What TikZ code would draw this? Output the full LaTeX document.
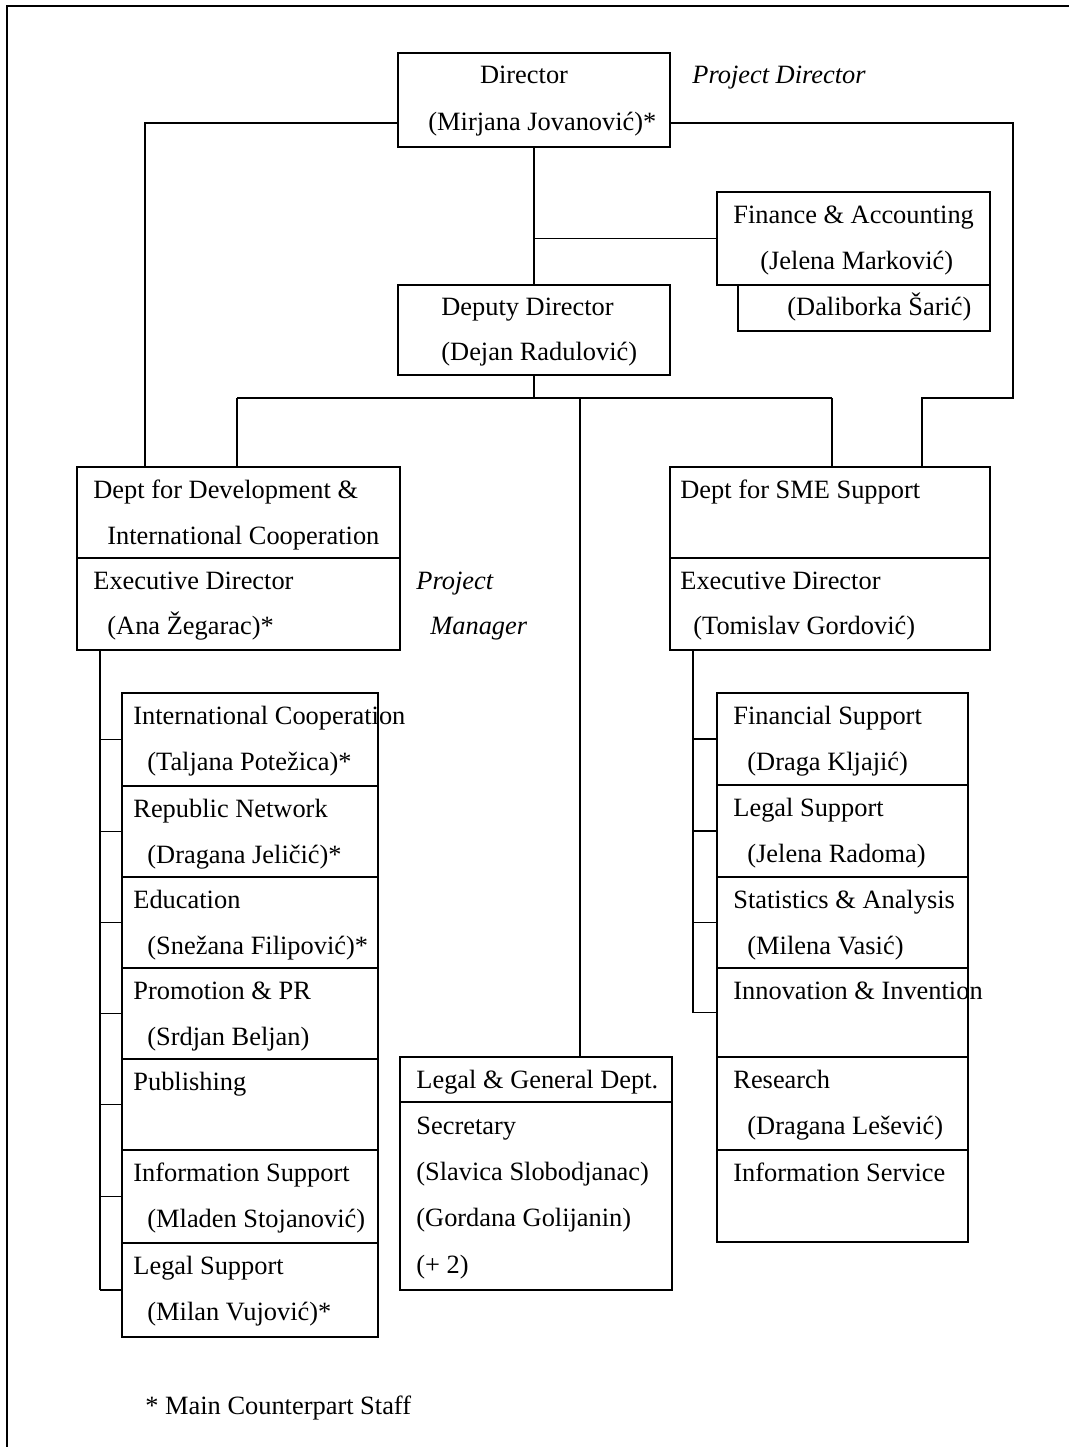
\documentclass[tikz,border=0pt]{standalone}
\usepackage{fontspec}
\setmainfont{Liberation Serif}
\usetikzlibrary{fit}
\begin{document}
\begin{tikzpicture}[x=0.5pt,y=-0.5pt,
  box/.style={draw, line width=0.8pt, inner sep=0pt},
  txt/.style={anchor=base west, inner sep=0pt, font=\fontsize{13.2}{16}\selectfont},
  itx/.style={anchor=base west, inner sep=0pt, font=\fontsize{13.2}{16}\selectfont\itshape},
  conn/.style={line width=0.8pt}]
\useasboundingbox (0,0) rectangle (1069,1447);
% frame
\coordinate (f1) at (1069,6);
\coordinate (f2) at (7,6);
\coordinate (f3) at (7,1447);
\draw[conn] (f1) -- (f2) -- (f3);

% top boxes
\node[box, fit={(398,53) (670,147)}] (dir) {};
\node[txt, anchor=base] (dirA) at (524,83) {Director};
\node[txt] (dirB) at (428,130) {(Mirjana Jovanović)*};
\node[itx] (pd) at (692,83) {Project Director};

\node[box, fit={(717,192) (990,285)}] (fin) {};
\node[txt] (finA) at (733,223) {Finance \& Accounting};
\node[txt] (finB) at (760,269) {(Jelena Marković)};
\node[box, fit={(738,285) (990,331)}] (dal) {};
\node[txt] (dalA) at (787,315) {(Daliborka Šarić)};

\node[box, fit={(398,285) (670,375)}] (dep) {};
\node[txt] (depA) at (441,315) {Deputy Director};
\node[txt] (depB) at (441,360) {(Dejan Radulović)};

% departments
\node[box, fit={(77,467) (400,650)}] (dev) {};
\coordinate (dd) at (0,558);
\draw[conn] (dev.west |- dd) -- (dev.east |- dd);
\node[txt] (devA) at (93,498) {Dept for Development \&};
\node[txt] (devB) at (107,544) {International Cooperation};
\node[txt] (devC) at (93,589) {Executive Director};
\node[txt] (devD) at (107,634) {(Ana Žegarac)*};
\node[itx] (pm1) at (416,589) {Project};
\node[itx] (pm2) at (430,634) {Manager};

\node[box, fit={(670,467) (990,650)}] (sme) {};
\draw[conn] (sme.west |- dd) -- (sme.east |- dd);
\node[txt] (smeA) at (680,498) {Dept for SME Support};
\node[txt] (smeC) at (680,589) {Executive Director};
\node[txt] (smeD) at (693,634) {(Tomislav Gordović)};

\node[box, fit={(400,1057) (672,1290)}] (leg) {};
\coordinate (ld) at (0,1102);
\draw[conn] (leg.west |- ld) -- (leg.east |- ld);
\node[txt] (legA) at (416,1088) {Legal \& General Dept.};
\node[txt] (legB) at (416,1134) {Secretary};
\node[txt] (legC) at (416,1180) {(Slavica Slobodjanac)};
\node[txt] (legD) at (416,1226) {(Gordana Golijanin)};
\node[txt] (legE) at (416,1273) {(+ 2)};

% left column
\coordinate (lb) at (100,650);
\foreach \i/\tp/\bt/\a/\b in {
  1/693/786/{International Cooperation}/{(Taljana Potežica)*},
  2/786/877/{Republic Network}/{(Dragana Jeličić)*},
  3/877/968/{Education}/{(Snežana Filipović)*},
  4/968/1059/{Promotion \& PR}/{(Srdjan Beljan)},
  5/1059/1150/{Publishing}/{},
  6/1150/1243/{Information Support}/{(Mladen Stojanović)},
  7/1243/1337/{Legal Support}/{(Milan Vujović)*}} {
  \node[box, fit={(122,\tp) (378,\bt)}] (L\i) {};
  \node[txt] (L\i a) at (133,\tp+31) {\a};
  \node[txt] (L\i b) at (147,\tp+77) {\b};
  \draw[conn] (lb |- L\i.west) -- (L\i.west);
}
\draw[conn] (lb |- dev.south) -- (lb |- L7.west);

% right column
\coordinate (rb) at (693,650);
\foreach \i/\tp/\bt/\a/\b in {
  1/693/785/{Financial Support}/{(Draga Kljajić)},
  2/785/877/{Legal Support}/{(Jelena Radoma)},
  3/877/968/{Statistics \& Analysis}/{(Milena Vasić)},
  4/968/1057/{Innovation \& Invention}/{},
  5/1057/1150/{Research}/{(Dragana Lešević)},
  6/1150/1242/{Information Service}/{}} {
  \node[box, fit={(717,\tp) (968,\bt)}] (R\i) {};
  \node[txt] (R\i a) at (733,\tp+31) {\a};
  \node[txt] (R\i b) at (747,\tp+77) {\b};
}
\foreach \i in {1,2,3,4} {
  \draw[conn] (rb |- R\i.west) -- (R\i.west);
}
\draw[conn] (rb |- sme.south) -- (rb |- R4.west);

% connectors
\coordinate (dl) at (145,123);
\draw[conn] (dir.west |- dl) -- (dl) -- (dl |- dev.north);
\coordinate (dr1) at (1013,123);
\coordinate (dr2) at (1013,398);
\coordinate (dr3) at (922,398);
\draw[conn] (dir.east |- dr1) -- (dr1) -- (dr2) -- (dr3) -- (dr3 |- sme.north);
\draw[conn] (dir.south) -- (dep.north);
\draw[conn] (dir.south |- fin.west) -- (fin.west);
\coordinate (bus) at (534,398);
\coordinate (bl) at (237,398);
\coordinate (br) at (832,398);
\coordinate (bm) at (580,398);
\draw[conn] (dep.south) -- (bus);
\draw[conn] (bl) -- (br);
\draw[conn] (bl) -- (bl |- dev.north);
\draw[conn] (br) -- (br |- sme.north);
\draw[conn] (bm) -- (bm |- leg.north);

\node[txt] (note) at (145,1414) {* Main Counterpart Staff};
\end{tikzpicture}
\end{document}
